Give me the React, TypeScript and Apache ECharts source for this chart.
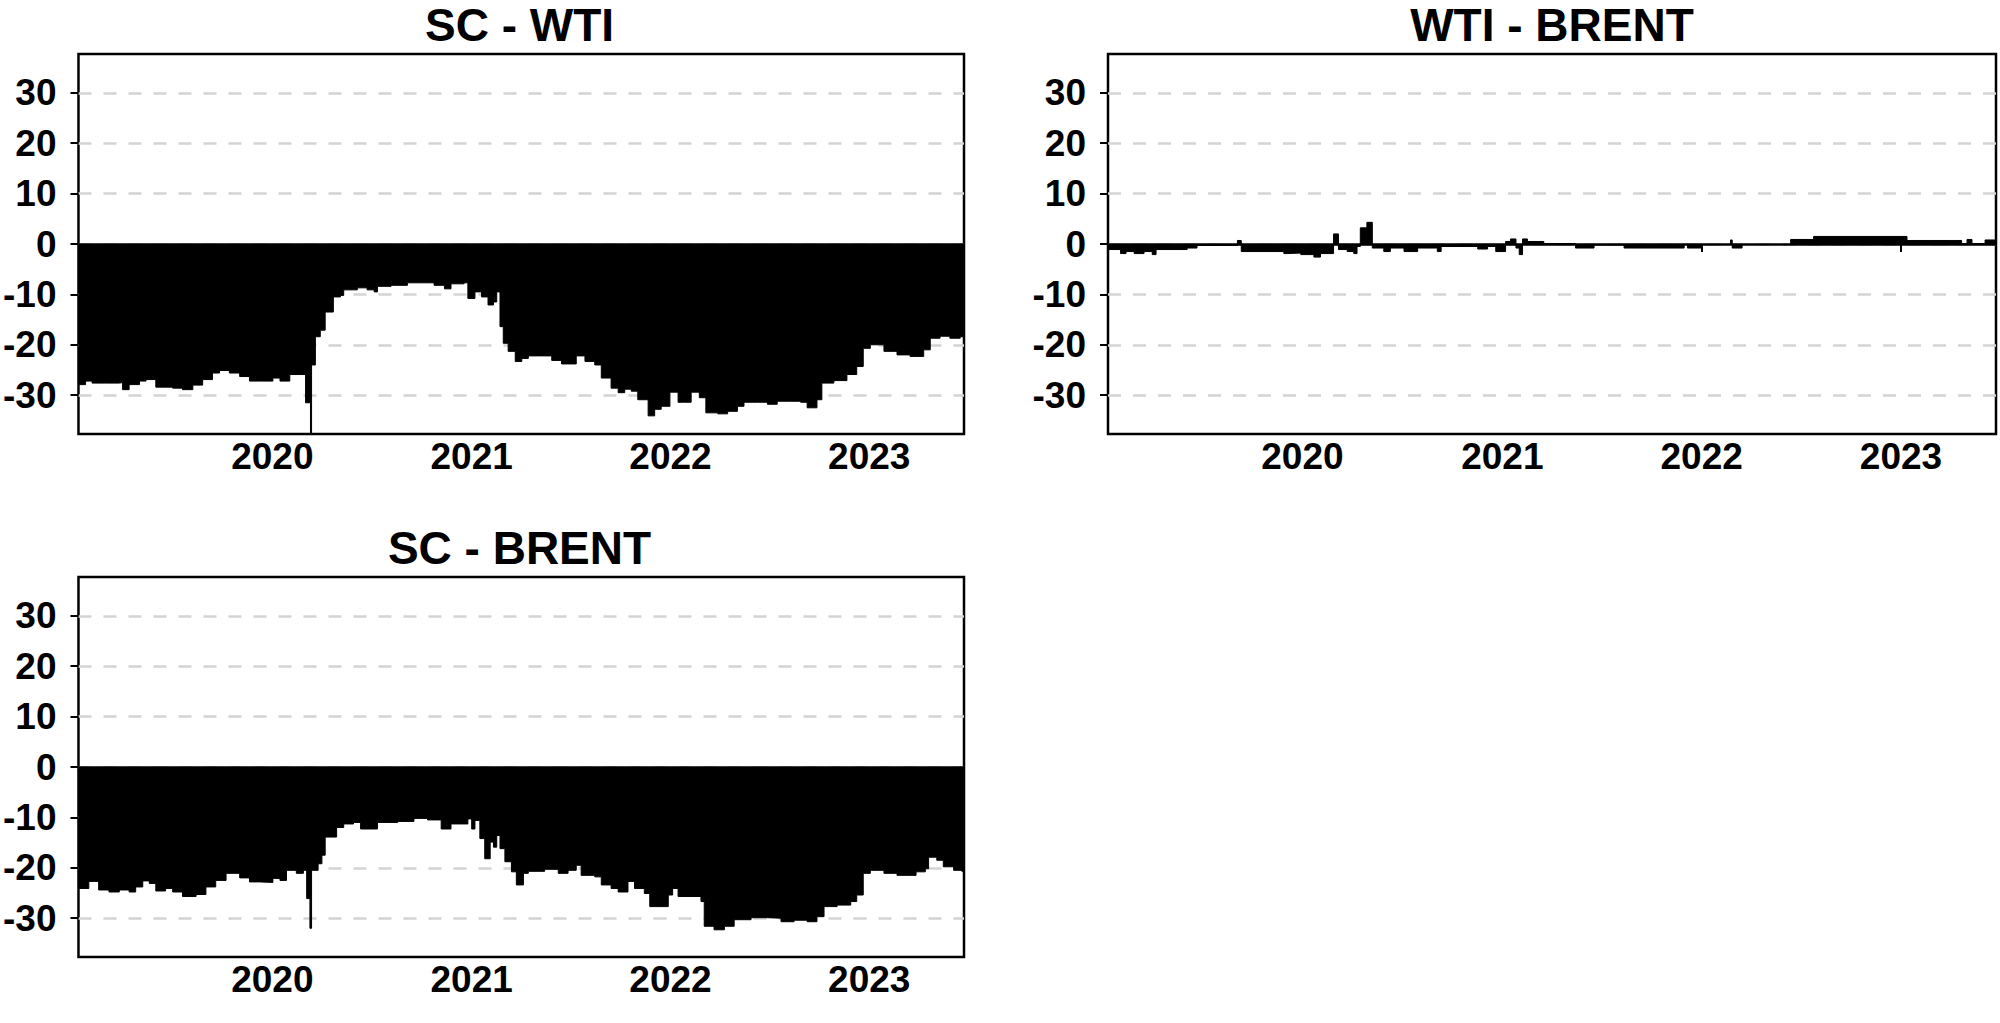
import React, { useEffect, useRef } from "react";
import * as echarts from "echarts";

// ---------- data ----------
const panelTitles = ["SC - WTI", "WTI - BRENT", "SC - BRENT"];
const yearTicks = ["2020-01-01", "2021-01-01", "2022-01-01", "2023-01-01"];
const yTicks = [-30, -20, -10, 0, 10, 20, 30];
const xStart = "2019-01-10";
const xEnd = "2023-06-24";

const scWtiDates = [
  "2019-01-10", "2019-01-23", "2019-02-04", "2019-03-01", "2019-03-26", "2019-04-01", "2019-04-13",
  "2019-05-02", "2019-05-14", "2019-06-01", "2019-07-02", "2019-07-20", "2019-08-08", "2019-08-26",
  "2019-09-13", "2019-09-26", "2019-10-14", "2019-11-02", "2019-11-20", "2019-12-09", "2020-01-02",
  "2020-01-15", "2020-02-02", "2020-02-21", "2020-03-02", "2020-03-11", "2020-03-13", "2020-03-20",
  "2020-03-29", "2020-04-07", "2020-04-16", "2020-04-22", "2020-05-05", "2020-05-11", "2020-06-05",
  "2020-06-23", "2020-07-06", "2020-07-12", "2020-08-06", "2020-09-05", "2020-10-06", "2020-10-24",
  "2020-11-12", "2020-11-24", "2020-12-18", "2020-12-25", "2021-01-07", "2021-01-19", "2021-01-31",
  "2021-02-10", "2021-02-16", "2021-02-22", "2021-02-28", "2021-03-09", "2021-03-22", "2021-04-03",
  "2021-04-15", "2021-05-10", "2021-05-28", "2021-06-15", "2021-07-12", "2021-07-28", "2021-08-15",
  "2021-08-27", "2021-09-14", "2021-09-27", "2021-10-09", "2021-10-21", "2021-11-02", "2021-11-21",
  "2021-12-03", "2021-12-15", "2021-12-31", "2022-01-15", "2022-01-27", "2022-02-08", "2022-02-23",
  "2022-03-07", "2022-03-29", "2022-04-16", "2022-05-04", "2022-05-16", "2022-06-10", "2022-06-28",
  "2022-07-16", "2022-08-10", "2022-08-28", "2022-09-09", "2022-09-27", "2022-10-06", "2022-10-28",
  "2022-11-21", "2022-12-09", "2022-12-21", "2023-01-03", "2023-01-28", "2023-02-21", "2023-03-17",
  "2023-04-11", "2023-04-23", "2023-05-11", "2023-05-29", "2023-06-17", "2023-06-24"
];
const scWtiValues = [
  -27.9, -27.2, -27.6, -27.6, -27.5, -28.9, -27.9,
  -27.2, -26.9, -28.4, -28.6, -28.9, -28.0, -26.9,
  -25.6, -25.1, -25.6, -26.3, -27.2, -27.2, -26.6,
  -27.2, -25.9, -25.9, -31.5, -38.5, -24.0, -18.4,
  -17.1, -13.5, -13.5, -10.5, -10.2, -9.1, -8.7,
  -9.1, -9.5, -8.4, -8.2, -7.7, -7.7, -8.2,
  -8.9, -7.9, -7.7, -10.8, -9.5, -10.5, -12.1,
  -11.5, -9.5, -16.4, -19.7, -21.3, -23.3, -22.7,
  -22.2, -22.2, -23.1, -23.8, -22.2, -23.3, -24.0,
  -26.6, -28.6, -29.5, -28.8, -29.2, -30.9, -34.1,
  -32.8, -32.2, -29.4, -31.4, -31.4, -29.4, -30.5,
  -33.5, -33.7, -33.2, -32.2, -31.4, -31.4, -31.8,
  -31.2, -31.2, -31.4, -32.5, -30.9, -27.6, -27.1,
  -25.9, -24.3, -20.7, -20.0, -21.3, -22.0, -22.3,
  -21.0, -18.7, -18.3, -18.7, -18.4, -18.4
];

const wtiBrentDates = [
  "2019-01-10", "2019-02-02", "2019-02-12", "2019-02-27", "2019-03-17", "2019-04-01", "2019-04-08",
  "2019-06-04", "2019-06-22", "2019-09-04", "2019-09-11", "2019-11-28", "2019-12-04", "2019-12-29",
  "2020-01-22", "2020-02-03", "2020-02-27", "2020-03-07", "2020-03-23", "2020-04-04", "2020-04-10",
  "2020-04-16", "2020-04-28", "2020-05-08", "2020-05-29", "2020-06-10", "2020-07-05", "2020-07-30",
  "2020-09-04", "2020-09-11", "2020-11-17", "2020-12-05", "2020-12-20", "2021-01-07", "2021-01-16",
  "2021-01-26", "2021-02-01", "2021-02-07", "2021-02-16", "2021-03-18", "2021-05-15", "2021-06-18",
  "2021-08-12", "2021-11-30", "2021-12-06", "2022-01-02", "2022-02-23", "2022-02-26", "2022-03-16",
  "2022-06-13", "2022-07-25", "2023-01-12", "2023-04-22", "2023-05-02", "2023-05-11", "2023-06-04",
  "2023-06-24"
];
const wtiBrentValues = [
  -1.1, -1.9, -1.5, -1.9, -1.5, -2.1, -1.1,
  -0.8, -0.3, 0.7, -1.5, -1.9, -1.8, -2.1,
  -2.6, -1.9, 2.0, -1.1, -1.5, -1.9, -0.5,
  3.2, 4.3, -0.8, -1.5, -0.8, -1.5, -0.8,
  -1.5, -0.5, -1.0, -0.5, -1.5, 0.5, 1.0,
  -0.8, -2.1, 1.0, 0.5, 0.1, -0.8, -0.2,
  -0.8, -0.1, -0.8, -0.1, 0.8, -0.8, -0.1,
  0.9, 1.5, 0.7, 0.1, 0.9, 0.1, 0.8,
  0.8
];

const scBrentDates = [
  "2019-01-10", "2019-01-29", "2019-02-16", "2019-03-07", "2019-03-26", "2019-04-13", "2019-04-25",
  "2019-05-08", "2019-05-20", "2019-06-01", "2019-06-19", "2019-07-02", "2019-07-20", "2019-08-14",
  "2019-09-01", "2019-09-19", "2019-10-08", "2019-11-02", "2019-11-20", "2019-12-09", "2020-01-02",
  "2020-01-15", "2020-01-27", "2020-02-14", "2020-02-27", "2020-03-04", "2020-03-10", "2020-03-13",
  "2020-03-25", "2020-04-01", "2020-04-07", "2020-04-28", "2020-05-11", "2020-05-29", "2020-06-11",
  "2020-07-12", "2020-08-18", "2020-09-17", "2020-10-12", "2020-11-06", "2020-11-24", "2020-12-25",
  "2021-01-01", "2021-01-07", "2021-01-16", "2021-01-25", "2021-02-04", "2021-02-10", "2021-02-16",
  "2021-02-22", "2021-03-03", "2021-03-15", "2021-03-24", "2021-04-06", "2021-04-15", "2021-05-15",
  "2021-06-09", "2021-06-27", "2021-07-12", "2021-07-21", "2021-08-15", "2021-08-27", "2021-09-14",
  "2021-09-27", "2021-10-15", "2021-10-27", "2021-11-14", "2021-11-24", "2021-12-28", "2022-01-05",
  "2022-01-15", "2022-02-26", "2022-03-04", "2022-03-22", "2022-04-10", "2022-04-28", "2022-05-29",
  "2022-06-28", "2022-07-23", "2022-08-16", "2022-09-09", "2022-09-27", "2022-10-10", "2022-11-03",
  "2022-11-28", "2022-12-09", "2022-12-21", "2023-01-03", "2023-01-28", "2023-02-21", "2023-03-28",
  "2023-04-14", "2023-04-20", "2023-05-05", "2023-05-17", "2023-06-05", "2023-06-20", "2023-06-24"
];
const scBrentValues = [
  -24.1, -22.7, -24.4, -24.8, -24.4, -24.8, -23.8,
  -22.6, -23.1, -24.6, -24.1, -24.8, -25.7, -25.3,
  -23.8, -22.5, -21.1, -22.0, -22.8, -22.9, -22.1,
  -22.5, -20.5, -21.1, -20.5, -26.1, -32.0, -20.5,
  -19.2, -17.5, -13.9, -12.0, -11.3, -11.0, -12.3,
  -11.0, -10.8, -10.2, -10.5, -12.3, -11.3, -10.3,
  -12.3, -10.6, -14.2, -18.2, -14.9, -15.9, -13.6,
  -16.2, -18.8, -20.8, -23.4, -21.1, -20.7, -20.3,
  -21.1, -20.5, -19.5, -21.5, -21.8, -23.4, -24.1,
  -24.8, -22.7, -24.1, -25.1, -27.7, -25.4, -24.1,
  -25.7, -26.7, -31.6, -32.3, -31.6, -30.3, -29.9,
  -30.0, -30.7, -30.4, -30.7, -29.7, -27.7, -27.4,
  -26.7, -25.4, -21.1, -20.5, -21.1, -21.5, -20.8,
  -20.2, -17.9, -18.5, -19.8, -20.5, -20.7, -20.7
];

const seriesDates = [scWtiDates, wtiBrentDates, scBrentDates];
const seriesValues = [scWtiValues, wtiBrentValues, scBrentValues];

// ---------- helpers ----------
const toMs = (d: string) => {
  const [y, m, day] = d.split("-").map(Number);
  return Date.UTC(y, m - 1, day);
};

// ---------- layout ----------
const FONT = "'Liberation Sans', Arial, sans-serif";
const grids = [
  { left: 75, top: 54, width: 889, height: 380 },
  { left: 1108, top: 54, width: 888, height: 380 },
  { left: 75, top: 577, width: 889, height: 380 },
];

function buildOption() {
  const yearTickMs = yearTicks.map(toMs);
  const pairs = (i: number) => seriesDates[i].map((d, k) => [toMs(d), seriesValues[i][k]]);
  return {
    animation: false,
    backgroundColor: "#ffffff",
    title: grids.map((g, i) => ({
      text: panelTitles[i],
      left: g.left + g.width / 2,
      top: g.top - 52,
      textAlign: "center",
      padding: 0,
      textStyle: { fontFamily: FONT, fontWeight: "bold", fontSize: 46, color: "#000" },
    })),
    grid: grids.map((g) => ({
      left: g.left,
      top: g.top,
      width: g.width,
      height: g.height,
      show: true,
      borderColor: "#000",
      borderWidth: 2.5,
      backgroundColor: "transparent",
    })),
    xAxis: grids.map((_, i) => ({
      type: "value",
      gridIndex: i,
      min: toMs(xStart),
      max: toMs(xEnd),
      axisLine: { show: false },
      splitLine: { show: false },
      axisTick: {
        show: true,
        length: 8,
        customValues: yearTickMs,
        lineStyle: { color: "#000", width: 2 },
      },
      axisLabel: {
        customValues: yearTickMs,
        formatter: (v: number) => String(new Date(v).getUTCFullYear()),
        fontFamily: FONT,
        fontWeight: "bold",
        fontSize: 37,
        color: "#000",
        margin: 4,
      },
    })),
    yAxis: grids.map((_, i) => ({
      type: "value",
      gridIndex: i,
      min: -37.7,
      max: 37.7,
      splitNumber: 8,
      minInterval: 10,
      maxInterval: 10,
      axisLine: { show: false },
      axisTick: {
        show: true,
        length: 8,
        customValues: yTicks,
        lineStyle: { color: "#000", width: 2 },
      },
      axisLabel: {
        customValues: yTicks,
        fontFamily: FONT,
        fontWeight: "bold",
        fontSize: 37,
        color: "#000",
        margin: 22,
      },
      splitLine: {
        show: true,
        lineStyle: { color: "#d4d4d4", width: 2.5, type: [13, 12] },
      },
    })),
    series: grids.map((_, i) => ({
      type: "line",
      xAxisIndex: i,
      yAxisIndex: i,
      step: "end",
      symbol: "none",
      data: pairs(i),
      lineStyle: { color: "#000", width: 1 },
      areaStyle: { color: "#000", opacity: 1, origin: 0 },
      markLine: {
        silent: true,
        symbol: "none",
        label: { show: false },
        lineStyle: { color: "#000", width: 2.5, type: "solid" },
        data: [{ yAxis: 0 }],
      },
    })),
  };
}

export default function App() {
  const ref = useRef<HTMLDivElement>(null);
  useEffect(() => {
    document.body.style.margin = "0";
    if (!ref.current) return;
    const chart = echarts.init(ref.current, null, { renderer: "svg" });
    chart.setOption(buildOption() as any);
    return () => chart.dispose();
  }, []);
  return (
    <div
      ref={ref}
      style={{ position: "fixed", left: 0, top: 0, width: 2000, height: 1023, background: "#fff" }}
    />
  );
}
